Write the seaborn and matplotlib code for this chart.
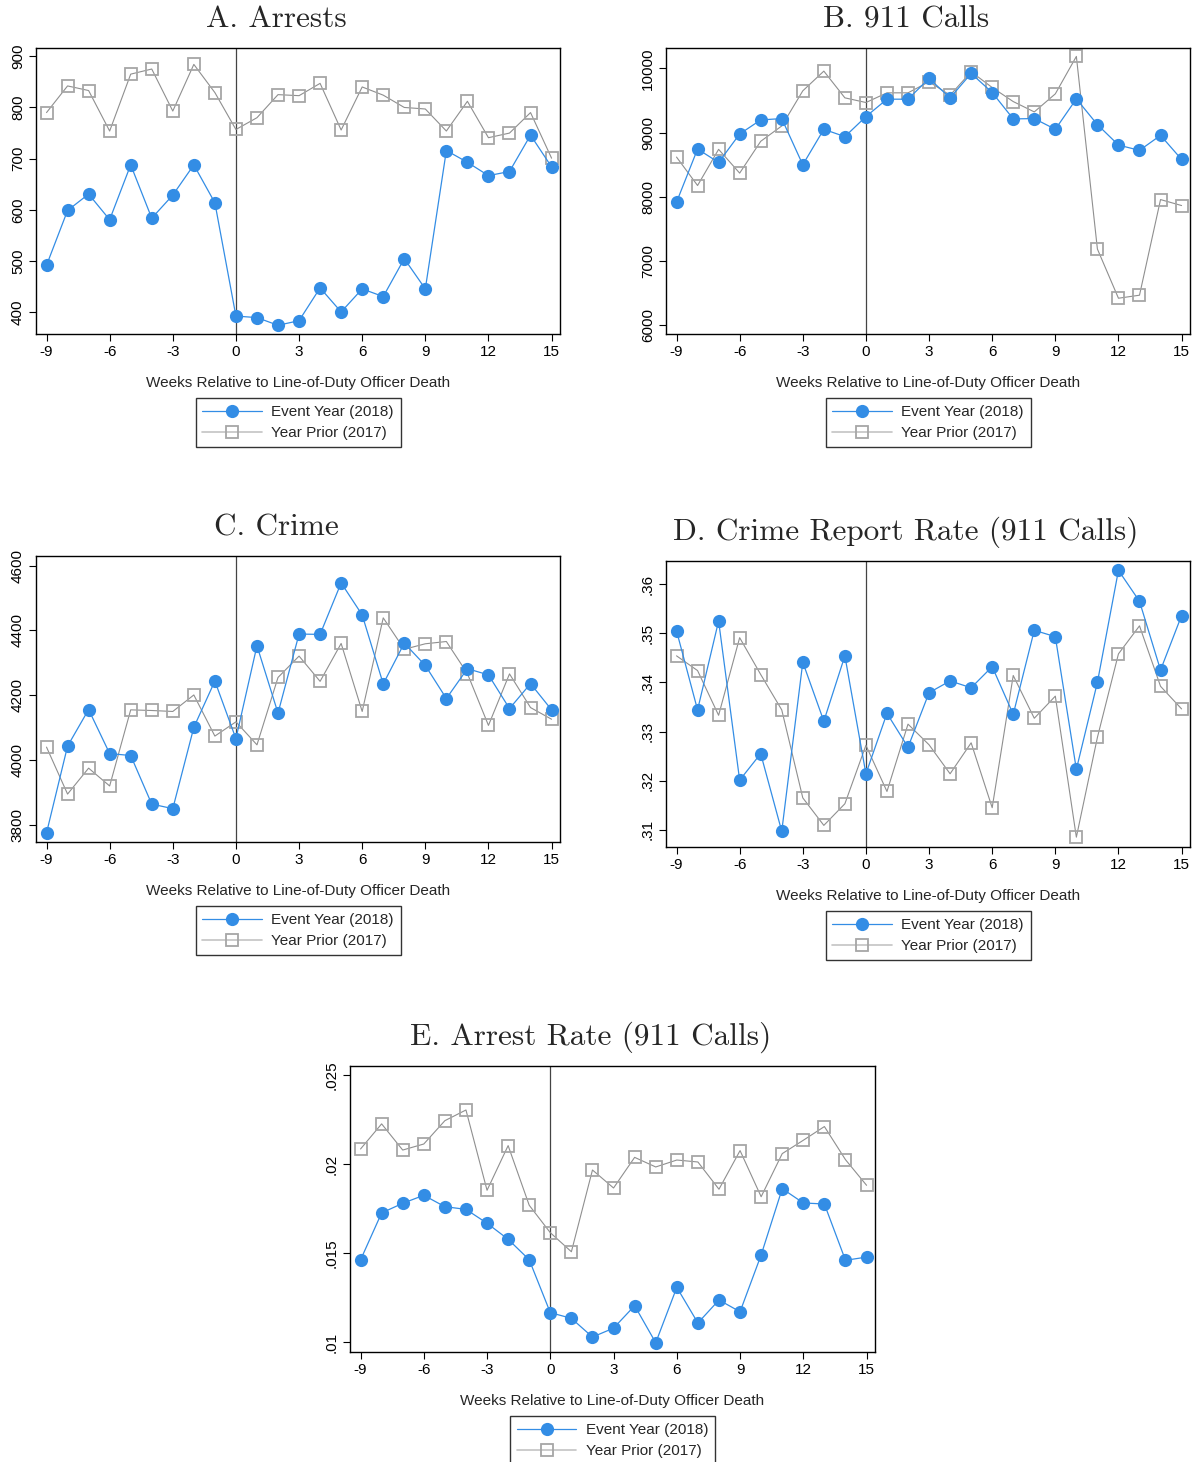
import numpy as np
import pandas as pd
import seaborn as sns
from matplotlib import pyplot as plt
from matplotlib.ticker import FuncFormatter

weeks = list(range(-9, 16))

arrests_2018 = [492, 599, 631, 581, 688, 584, 629, 688, 614, 393, 390, 375, 384, 448, 401,
                446, 431, 505, 446, 716, 693, 667, 675, 746, 684]
arrests_2017 = [790, 842, 833, 754, 865, 875, 793, 884, 829, 757, 780, 825, 823, 847, 756,
                840, 824, 800, 797, 754, 812, 741, 750, 790, 701]

calls_2018 = [7917, 8745, 8536, 8979, 9198, 9219, 8500, 9052, 8938, 9250, 9521, 9521, 9844,
              9542, 9922, 9625, 9214, 9219, 9052, 9526, 9125, 8807, 8724, 8958, 8583]
calls_2017 = [8620, 8177, 8740, 8370, 8865, 9104, 9651, 9958, 9542, 9469, 9620, 9620, 9792,
              9583, 9948, 9703, 9484, 9323, 9604, 10187, 7188, 6422, 6469, 7958, 7865]

crime_2018 = [3775, 4043, 4156, 4020, 4014, 3864, 3850, 4101, 4244, 4066, 4353, 4145, 4389,
              4388, 4547, 4448, 4235, 4361, 4292, 4190, 4282, 4263, 4159, 4236, 4155]
crime_2017 = [4040, 3895, 3975, 3920, 4155, 4153, 4150, 4201, 4074, 4118, 4047, 4255, 4321,
              4243, 4360, 4150, 4439, 4342, 4359, 4366, 4267, 4107, 4266, 4162, 4126]

report_2018 = [.3505, .3344, .3525, .3201, .3255, .3097, .3441, .3321, .3454, .3214, .3337,
               .3268, .3379, .3403, .3389, .3432, .3335, .3506, .3493, .3223, .3400, .3628,
               .3565, .3425, .3536]
report_2017 = [.3454, .3424, .3333, .3491, .3416, .3344, .3165, .3109, .3153, .3272, .3178,
               .3315, .3273, .3214, .3277, .3145, .3414, .3327, .3372, .3085, .3288, .3458,
               .3515, .3392, .3346]

arate_2018 = [.01463, .01727, .01781, .01826, .01762, .01747, .01669, .01579, .01464, .01167,
              .01135, .01030, .01080, .01206, .00998, .01309, .01109, .01238, .01172, .01491,
              .01863, .01783, .01777, .01461, .01479]
arate_2017 = [.02086, .02227, .02080, .02114, .02245, .02305, .01854, .02105, .01770, .01616,
              .01509, .01968, .01867, .02039, .01985, .02024, .02013, .01860, .02077, .01818,
              .02060, .02135, .02212, .02026, .01882]

sns.set_theme(style="white")
plt.rcParams['font.family'] = ['Liberation Sans', 'DejaVu Sans']
plt.rcParams['axes.unicode_minus'] = False

blue = "#338de5"
gray_line = "#8f8f8f"
gray_mark = "#a6a6a6"

W, H = 1194, 1462
fig = plt.figure(figsize=(W / 100, H / 100), dpi=100)


def stata_fmt(v, pos):
    s = "%g" % round(v, 4)
    if s.startswith("0."):
        s = s[1:]
    return s


def panel(box, title, ev, pr, yticks, ylim, fmt=False):
    left, top, right, bottom = box
    ax = fig.add_axes([left / W, 1 - bottom / H, (right - left) / W, (bottom - top) / H])
    df = pd.DataFrame({"week": weeks, "ev": ev, "pr": pr})
    sns.lineplot(data=df, x="week", y="pr", ax=ax, color=gray_line, lw=0.8,
                 marker="s", markersize=9, markerfacecolor="none",
                 markeredgecolor=gray_mark, markeredgewidth=1.3, zorder=2)
    sns.lineplot(data=df, x="week", y="ev", ax=ax, color=blue, lw=0.9,
                 marker="o", markersize=9.5, markeredgewidth=0, zorder=3)
    ax.axvline(0, color="#444444", lw=0.9, zorder=1)
    ax.set_xlim(-9.5, 15.4)
    ax.set_ylim(*ylim)
    ax.set_xticks(range(-9, 16, 3))
    ax.set_yticks(yticks)
    if fmt:
        ax.yaxis.set_major_formatter(FuncFormatter(stata_fmt))
    for lab in ax.get_yticklabels():
        lab.set_rotation(90)
        lab.set_va("center")
    ax.tick_params(axis="both", direction="out", length=5, width=0.8, colors="black",
                   labelsize=11, pad=3, left=True, bottom=True)
    for sp in ax.spines.values():
        sp.set_color("black")
        sp.set_linewidth(1.0)
    ax.set_xlabel("Weeks Relative to Line-of-Duty Officer Death", fontsize=11, labelpad=12)
    ax.set_ylabel("")
    ax.set_title(title, fontfamily="cmr10", fontsize=22.5, pad=15,
                 x=0.5 - 22 / (right - left))
    h1 = plt.Line2D([], [], color=blue, lw=0.9, marker="o", markersize=9.5, markeredgewidth=0)
    h2 = plt.Line2D([], [], color="#c4c4c4", lw=1.2, marker="s", markersize=9,
                    markerfacecolor="none", markeredgecolor=gray_mark, markeredgewidth=1.3)
    leg = ax.legend([h1, h2], ["Event Year (2018)", "Year Prior (2017)"],
                    loc="upper center", bbox_to_anchor=(0.5, -0.225), fontsize=11,
                    frameon=True, fancybox=False, edgecolor="black", handlelength=3.9,
                    borderpad=0.45, labelspacing=0.45, handletextpad=0.6, borderaxespad=0)
    leg.get_frame().set_linewidth(1.0)
    return ax


panel((36, 48, 560, 334), "A. Arrests", arrests_2018, arrests_2017,
      [400, 500, 600, 700, 800, 900], (358, 916))
panel((666, 48, 1190, 334), "B. 911 Calls", calls_2018, calls_2017,
      [6000, 7000, 8000, 9000, 10000], (5865, 10318))
panel((36, 556, 560, 842), "C. Crime", crime_2018, crime_2017,
      [3800, 4000, 4200, 4400, 4600], (3747, 4630))
panel((666, 561, 1190, 847), "D. Crime Report Rate (911 Calls)", report_2018, report_2017,
      [.31, .32, .33, .34, .35, .36], (.3065, .3647), fmt=True)
panel((350, 1066, 875, 1352), "E. Arrest Rate (911 Calls)", arate_2018, arate_2017,
      [.01, .015, .02, .025], (.00946, .02552), fmt=True)

fig.savefig("out.png", dpi=100, facecolor="white")
